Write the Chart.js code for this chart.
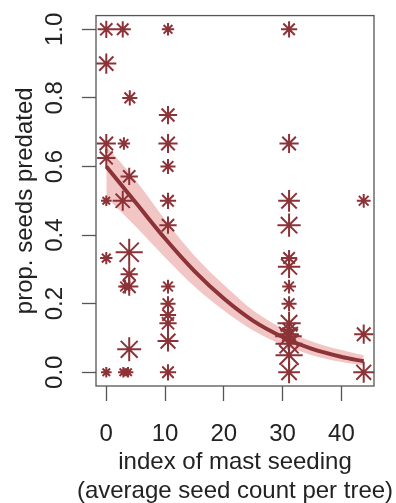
<!DOCTYPE html>
<html>
<head>
<meta charset="utf-8">
<script src="https://cdn.jsdelivr.net/npm/chart.js@4"></script>
<style>
  html, body { margin: 0; padding: 0; background: #fff; }
</style>
</head>
<body>
<canvas id="seedChart" width="396" height="503"></canvas>
<script>
// observed proportion of seeds predated per tree, against mast index
let mastIndex = [
  0, 0, 0, 0, 0, 0, 0,
  2.8, 4.0, 3.0, 3.9, 2.8, 3.9, 3.9, 3.2, 3.9, 3.9, 2.9, 3.7,
  10.5, 10.5, 10.5, 10.5, 10.5, 10.5, 10.5, 10.5, 10.5, 10.5, 10.5, 10.5,
  31.1, 31.1, 31.1, 31.1, 31.1, 31.1, 31.1, 31.1, 31.1, 31.1, 31.1, 31.0, 31.1, 31.1, 31.1,
  43.8, 43.8, 43.8
];
let propPredated = [
  1.0, 0.9, 0.667, 0.625, 0.5, 0.333, 0,
  1.0, 0.8, 0.667, 0.571, 0.5, 0.35, 0.286, 0.25, 0.25, 0.067, 0, 0,
  1.0, 0.75, 0.667, 0.6, 0.5, 0.429, 0.25, 0.2, 0.167, 0.143, 0.091, 0,
  1.0, 0.667, 0.5, 0.429, 0.333, 0.308, 0.25, 0.2, 0.143, 0.125, 0.111, 0.105, 0.083, 0.05, 0,
  0.5, 0.111, 0
];
// seeds counted under each tree (drives the symbol size)
let seedsCounted = [
  7, 10, 9, 8, 2, 3, 2,
  6, 5, 3, 7, 10, 20, 7, 4, 8, 15, 2, 2,
  3, 8, 9, 5, 6, 7, 4, 5, 6, 7, 11, 6,
  6, 9, 12, 14, 6, 13, 4, 5, 14, 8, 9, 19, 20, 20, 12,
  4, 9, 11
];

// fitted curve and its confidence band
let fitX = [0, 5, 10, 15, 20, 25, 30, 35, 40, 43.8];
let fitY = [0.600, 0.495, 0.390, 0.295, 0.215, 0.150, 0.103, 0.068, 0.045, 0.032];
let fitLower = [0.510, 0.425, 0.335, 0.250, 0.180, 0.122, 0.080, 0.050, 0.030, 0.020];
let fitUpper = [0.660, 0.560, 0.445, 0.340, 0.255, 0.180, 0.128, 0.090, 0.065, 0.050];

let xTicks = [0, 10, 20, 30, 40];
let yTicks = [0, 0.2, 0.4, 0.6, 0.8, 1.0];
let xTitle = ['index of mast seeding', '(average seed count per tree)'];
let yTitle = 'prop. seeds predated';

const darkRed = '#8c3338';
const bandPink = '#f3c6c6';
const textFont = '24px "Liberation Sans", Arial, sans-serif';

function toPoints(xs, ys) {
  return xs.map((x, i) => ({ x: x, y: ys[i] }));
}

// box around the plot + axis labels (R style)
const axisText = {
  id: 'axisText',
  afterDraw(chart) {
    const ctx = chart.ctx;
    const area = chart.chartArea;
    const xs = chart.scales.x;
    const ys = chart.scales.y;
    ctx.save();
    ctx.strokeStyle = '#555';
    ctx.lineWidth = 1.3;
    ctx.strokeRect(area.left, area.top, area.right - area.left, area.bottom - area.top);

    ctx.fillStyle = '#222';
    ctx.font = textFont;
    ctx.textAlign = 'center';
    ctx.textBaseline = 'alphabetic';
    xTicks.forEach((v) => {
      ctx.fillText(String(v), xs.getPixelForValue(v), area.bottom + 54.5);
    });
    ctx.fillText(xTitle[0], (area.left + area.right) / 2, area.bottom + 82.5);
    ctx.fillText(xTitle[1], (area.left + area.right) / 2, area.bottom + 111.5);

    yTicks.forEach((v) => {
      ctx.save();
      ctx.translate(area.left - 34, ys.getPixelForValue(v));
      ctx.rotate(-Math.PI / 2);
      ctx.fillText(v.toFixed(1), 0, 0);
      ctx.restore();
    });
    ctx.save();
    ctx.translate(area.left - 64, (area.top + area.bottom) / 2);
    ctx.rotate(-Math.PI / 2);
    ctx.fillText(yTitle, 0, 0);
    ctx.restore();
    ctx.restore();
  }
};

let ctx = document.getElementById('seedChart');
new Chart(ctx, {
  type: 'scatter',
  data: {
    datasets: [
      {
        type: 'line',
        data: toPoints(fitX, fitUpper),
        borderWidth: 0,
        pointRadius: 0,
        backgroundColor: bandPink,
        fill: '+1',
        cubicInterpolationMode: 'monotone',
        order: 4,
      },
      {
        type: 'line',
        data: toPoints(fitX, fitLower),
        borderWidth: 0,
        pointRadius: 0,
        fill: false,
        cubicInterpolationMode: 'monotone',
        order: 4,
      },
      {
        data: toPoints(mastIndex, propPredated),
        pointStyle: 'star',
        pointRadius: seedsCounted.map((n) => 1.5 + 2.7 * Math.sqrt(n)),
        pointBorderColor: darkRed,
        pointBorderWidth: 2,
        pointBackgroundColor: darkRed,
        clip: false,
        order: 2,
      },
      {
        type: 'line',
        data: toPoints(fitX, fitY),
        borderColor: darkRed,
        borderWidth: 4,
        pointRadius: 0,
        fill: false,
        cubicInterpolationMode: 'monotone',
        order: 1,
      },
    ],
  },
  options: {
    responsive: false,
    animation: false,
    devicePixelRatio: 1,
    events: [],
    layout: { padding: { top: 15, right: 22, left: 0, bottom: 0 } },
    plugins: { legend: { display: false }, tooltip: { enabled: false } },
    scales: {
      x: {
        type: 'linear',
        min: -1.75,
        max: 45.55,
        afterBuildTicks: (scale) => { scale.ticks = xTicks.map((v) => ({ value: v })); },
        afterFit: (scale) => { scale.height = 117; },
        ticks: { display: false },
        border: { display: false },
        grid: { drawOnChartArea: false, drawTicks: true, tickLength: 15, tickColor: '#555', tickWidth: 1.3 },
      },
      y: {
        type: 'linear',
        min: -0.04,
        max: 1.04,
        afterBuildTicks: (scale) => { scale.ticks = yTicks.map((v) => ({ value: v })); },
        afterFit: (scale) => { scale.width = 96; },
        ticks: { display: false },
        border: { display: false },
        grid: { drawOnChartArea: false, drawTicks: true, tickLength: 14, tickColor: '#555', tickWidth: 1.3 },
      },
    },
  },
  plugins: [axisText],
});
</script>
</body>
</html>
